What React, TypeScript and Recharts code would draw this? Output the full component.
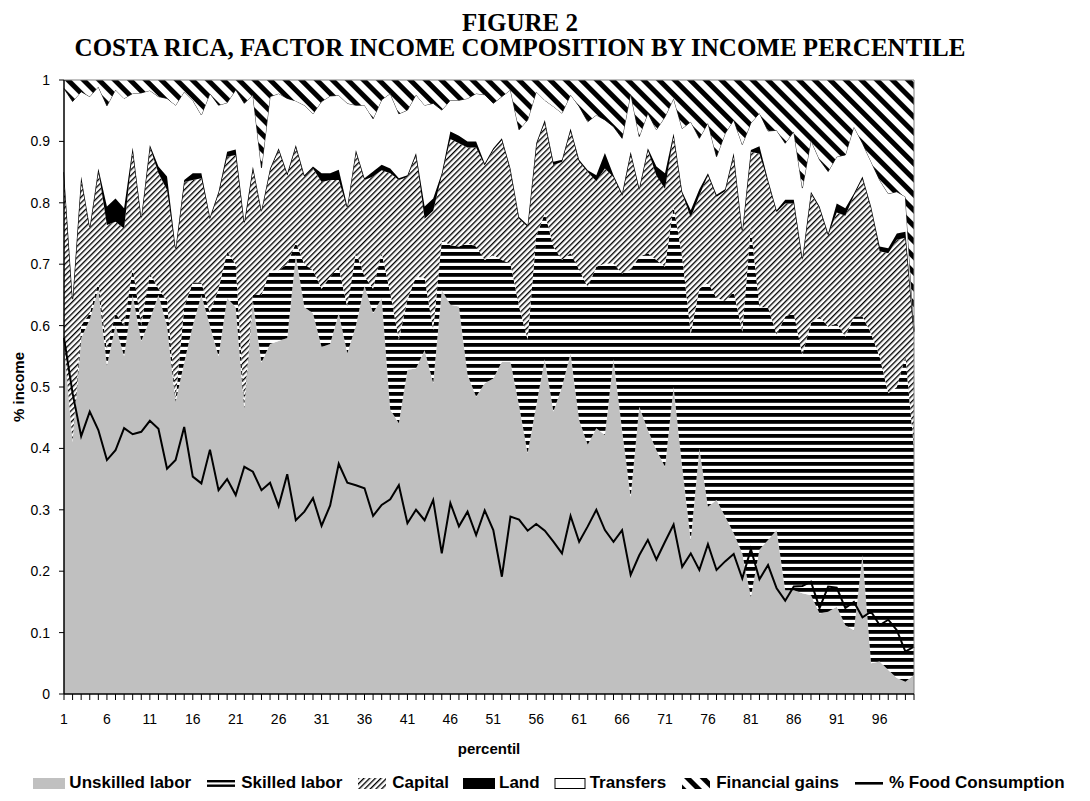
import React from 'react';
import { ComposedChart, Area, Line, XAxis, YAxis, ReferenceLine, Legend } from 'recharts';

const percentiles = [
  1, 2, 3, 4, 5, 6, 7, 8, 9, 10, 11, 12, 13, 14, 15, 16, 17, 18, 19, 20,
  21, 22, 23, 24, 25, 26, 27, 28, 29, 30, 31, 32, 33, 34, 35, 36, 37, 38, 39, 40,
  41, 42, 43, 44, 45, 46, 47, 48, 49, 50, 51, 52, 53, 54, 55, 56, 57, 58, 59, 60,
  61, 62, 63, 64, 65, 66, 67, 68, 69, 70, 71, 72, 73, 74, 75, 76, 77, 78, 79, 80,
  81, 82, 83, 84, 85, 86, 87, 88, 89, 90, 91, 92, 93, 94, 95, 96, 97, 98, 99, 100,
];

const unskilled = [
  0.570, 0.410, 0.580, 0.610, 0.660, 0.535, 0.600, 0.550, 0.650, 0.575,
  0.610, 0.650, 0.600, 0.476, 0.540, 0.600, 0.650, 0.600, 0.550, 0.645,
  0.630, 0.465, 0.640, 0.540, 0.570, 0.575, 0.580, 0.715, 0.630, 0.620,
  0.565, 0.570, 0.620, 0.555, 0.600, 0.665, 0.620, 0.645, 0.463, 0.441,
  0.528, 0.530, 0.560, 0.506, 0.658, 0.634, 0.631, 0.520, 0.484, 0.506,
  0.514, 0.541, 0.541, 0.470, 0.392, 0.470, 0.545, 0.460, 0.500, 0.555,
  0.446, 0.406, 0.433, 0.422, 0.545, 0.430, 0.321, 0.468, 0.430, 0.397,
  0.370, 0.500, 0.370, 0.251, 0.400, 0.305, 0.316, 0.289, 0.262, 0.229,
  0.158, 0.235, 0.251, 0.267, 0.169, 0.169, 0.164, 0.161, 0.131, 0.134,
  0.142, 0.112, 0.104, 0.226, 0.050, 0.053, 0.039, 0.026, 0.020, 0.031,
];

const skilled = [
  0.000, 0.000, 0.020, 0.010, 0.010, 0.025, 0.020, 0.050, 0.045, 0.025,
  0.075, 0.010, 0.040, 0.004, 0.090, 0.070, 0.020, 0.020, 0.110, 0.075,
  0.070, 0.005, 0.010, 0.110, 0.120, 0.115, 0.120, 0.020, 0.070, 0.070,
  0.095, 0.110, 0.075, 0.075, 0.120, 0.015, 0.040, 0.073, 0.190, 0.136,
  0.114, 0.150, 0.117, 0.087, 0.081, 0.097, 0.098, 0.214, 0.245, 0.201,
  0.201, 0.166, 0.160, 0.161, 0.185, 0.275, 0.238, 0.269, 0.207, 0.163,
  0.245, 0.257, 0.263, 0.279, 0.156, 0.255, 0.370, 0.244, 0.288, 0.310,
  0.326, 0.294, 0.342, 0.336, 0.260, 0.365, 0.329, 0.351, 0.393, 0.361,
  0.602, 0.395, 0.379, 0.318, 0.446, 0.451, 0.388, 0.443, 0.484, 0.464,
  0.462, 0.470, 0.511, 0.389, 0.537, 0.496, 0.451, 0.474, 0.530, 0.369,
];

const capital = [
  0.277, 0.231, 0.240, 0.138, 0.183, 0.204, 0.149, 0.158, 0.192, 0.174,
  0.206, 0.188, 0.181, 0.243, 0.204, 0.167, 0.170, 0.154, 0.155, 0.155,
  0.178, 0.296, 0.206, 0.135, 0.163, 0.196, 0.145, 0.156, 0.142, 0.166,
  0.174, 0.157, 0.142, 0.161, 0.163, 0.157, 0.183, 0.135, 0.195, 0.260,
  0.200, 0.198, 0.097, 0.194, 0.106, 0.173, 0.168, 0.156, 0.161, 0.154,
  0.171, 0.195, 0.152, 0.143, 0.184, 0.149, 0.149, 0.132, 0.160, 0.200,
  0.176, 0.187, 0.139, 0.155, 0.141, 0.127, 0.189, 0.109, 0.168, 0.137,
  0.127, 0.116, 0.103, 0.189, 0.152, 0.175, 0.165, 0.179, 0.223, 0.162,
  0.123, 0.250, 0.204, 0.200, 0.184, 0.179, 0.155, 0.211, 0.176, 0.149,
  0.180, 0.197, 0.197, 0.225, 0.204, 0.172, 0.228, 0.240, 0.193, 0.187,
];

const land = [
  0.003, 0.003, 0.003, 0.003, 0.003, 0.030, 0.038, 0.033, 0.003, 0.003,
  0.003, 0.011, 0.022, 0.003, 0.003, 0.011, 0.008, 0.003, 0.003, 0.008,
  0.009, 0.003, 0.003, 0.003, 0.003, 0.003, 0.003, 0.003, 0.003, 0.003,
  0.014, 0.011, 0.017, 0.003, 0.003, 0.003, 0.008, 0.009, 0.008, 0.003,
  0.003, 0.003, 0.020, 0.020, 0.003, 0.012, 0.012, 0.010, 0.010, 0.003,
  0.003, 0.003, 0.003, 0.003, 0.003, 0.003, 0.003, 0.006, 0.003, 0.003,
  0.003, 0.003, 0.010, 0.025, 0.003, 0.003, 0.003, 0.003, 0.003, 0.015,
  0.025, 0.003, 0.003, 0.012, 0.010, 0.003, 0.003, 0.003, 0.003, 0.003,
  0.003, 0.012, 0.003, 0.003, 0.006, 0.006, 0.003, 0.003, 0.003, 0.003,
  0.015, 0.012, 0.003, 0.003, 0.003, 0.008, 0.008, 0.010, 0.010, 0.003,
];

const transfers = [
  0.136, 0.321, 0.138, 0.212, 0.133, 0.164, 0.177, 0.179, 0.088, 0.202,
  0.089, 0.114, 0.127, 0.233, 0.144, 0.119, 0.095, 0.201, 0.141, 0.080,
  0.097, 0.193, 0.117, 0.069, 0.117, 0.089, 0.122, 0.072, 0.114, 0.086,
  0.117, 0.126, 0.121, 0.168, 0.073, 0.119, 0.086, 0.106, 0.122, 0.105,
  0.106, 0.095, 0.165, 0.155, 0.103, 0.051, 0.058, 0.070, 0.078, 0.112,
  0.073, 0.068, 0.128, 0.142, 0.171, 0.084, 0.032, 0.090, 0.076, 0.055,
  0.087, 0.079, 0.098, 0.054, 0.079, 0.090, 0.095, 0.084, 0.057, 0.060,
  0.092, 0.057, 0.103, 0.144, 0.083, 0.082, 0.062, 0.091, 0.054, 0.140,
  0.044, 0.054, 0.080, 0.130, 0.092, 0.111, 0.114, 0.084, 0.076, 0.101,
  0.076, 0.087, 0.109, 0.054, 0.073, 0.108, 0.089, 0.068, 0.057, 0.002,
];

const financial = [
  0.014, 0.035, 0.019, 0.027, 0.011, 0.042, 0.016, 0.030, 0.022, 0.021,
  0.017, 0.027, 0.030, 0.041, 0.019, 0.033, 0.057, 0.022, 0.041, 0.037,
  0.016, 0.038, 0.024, 0.143, 0.027, 0.022, 0.030, 0.034, 0.041, 0.055,
  0.035, 0.026, 0.025, 0.038, 0.041, 0.041, 0.063, 0.032, 0.022, 0.055,
  0.049, 0.024, 0.041, 0.038, 0.049, 0.033, 0.033, 0.030, 0.022, 0.024,
  0.038, 0.027, 0.016, 0.081, 0.065, 0.019, 0.033, 0.043, 0.054, 0.024,
  0.043, 0.068, 0.057, 0.065, 0.076, 0.095, 0.022, 0.092, 0.054, 0.081,
  0.060, 0.030, 0.079, 0.068, 0.095, 0.070, 0.125, 0.087, 0.065, 0.105,
  0.070, 0.054, 0.083, 0.082, 0.103, 0.084, 0.176, 0.098, 0.130, 0.149,
  0.125, 0.122, 0.076, 0.103, 0.133, 0.163, 0.185, 0.182, 0.190, 0.408,
];

const foodConsumption = [
  0.580, 0.490, 0.420, 0.460, 0.430, 0.381, 0.397, 0.433, 0.423, 0.427,
  0.445, 0.432, 0.367, 0.381, 0.435, 0.354, 0.343, 0.398, 0.332, 0.350,
  0.324, 0.370, 0.362, 0.332, 0.344, 0.306, 0.358, 0.283, 0.297, 0.319,
  0.274, 0.307, 0.375, 0.344, 0.340, 0.335, 0.290, 0.308, 0.317, 0.340,
  0.278, 0.300, 0.283, 0.316, 0.229, 0.311, 0.273, 0.297, 0.259, 0.299,
  0.267, 0.191, 0.289, 0.284, 0.266, 0.277, 0.266, 0.248, 0.229, 0.290,
  0.248, 0.273, 0.300, 0.267, 0.248, 0.267, 0.194, 0.226, 0.251, 0.219,
  0.248, 0.276, 0.207, 0.229, 0.202, 0.244, 0.202, 0.216, 0.228, 0.188,
  0.236, 0.187, 0.210, 0.172, 0.152, 0.175, 0.176, 0.183, 0.140, 0.175,
  0.173, 0.140, 0.150, 0.125, 0.134, 0.112, 0.121, 0.104, 0.069, 0.077,
];

const yTicks = [0, 0.1, 0.2, 0.3, 0.4, 0.5, 0.6, 0.7, 0.8, 0.9, 1];
const yTickLabels = ['0', '0.1', '0.2', '0.3', '0.4', '0.5', '0.6', '0.7', '0.8', '0.9', '1'];

const data = percentiles.map((p, i) => ({
  p,
  unskilled: unskilled[i],
  skilled: skilled[i],
  capital: capital[i],
  land: land[i],
  transfers: transfers[i],
  financial: financial[i],
  food: foodConsumption[i],
}));

const SANS = '"Liberation Sans", Arial, sans-serif';
const SERIF = '"Liberation Serif", "Times New Roman", serif';

const PatternDefs = ({ prefix }: { prefix: string }) => (
  <defs>
    <pattern id={`${prefix}-skilled`} patternUnits="userSpaceOnUse" width="8" height="7">
      <rect x="0" y="0" width="8" height="7" fill="#fff" />
      <rect x="0" y="0" width="8" height="3.8" fill="#000" />
    </pattern>
    <pattern id={`${prefix}-capital`} patternUnits="userSpaceOnUse" width="4" height="4" patternTransform="rotate(45)">
      <rect x="0" y="0" width="4" height="4" fill="#fff" />
      <rect x="0" y="0" width="1.35" height="4" fill="#000" />
    </pattern>
    <pattern id={`${prefix}-financial`} patternUnits="userSpaceOnUse" width="11" height="11" patternTransform="rotate(-45)">
      <rect x="0" y="0" width="11" height="11" fill="#fff" />
      <rect x="0" y="0" width="5" height="11" fill="#000" />
    </pattern>
  </defs>
);

const legendItems = [
  { key: 'unskilled', label: 'Unskilled labor' },
  { key: 'skilled', label: 'Skilled labor' },
  { key: 'capital', label: 'Capital' },
  { key: 'land', label: 'Land' },
  { key: 'transfers', label: 'Transfers' },
  { key: 'financial', label: 'Financial gains' },
  { key: 'food', label: '% Food Consumption' },
];

const Swatch = ({ k }: { k: string }) => {
  let inner: React.ReactNode = null;
  if (k === 'unskilled') inner = <rect x="0" y="4" width="32" height="11" fill="#c0c0c0" />;
  else if (k === 'skilled') inner = (
    <g>
      <rect x="2" y="6" width="28" height="2.4" fill="#000" />
      <rect x="2" y="10.5" width="28" height="2.4" fill="#000" />
    </g>
  );
  else if (k === 'capital') inner = <rect x="2" y="4" width="28" height="11" fill="url(#lg-capital)" />;
  else if (k === 'land') inner = <rect x="0" y="4" width="32" height="11" fill="#000" />;
  else if (k === 'transfers') inner = <rect x="1" y="4.5" width="30" height="10" fill="#fff" stroke="#000" strokeWidth="1" />;
  else if (k === 'financial') inner = <rect x="2" y="4" width="28" height="11" fill="url(#lg-financial)" />;
  else if (k === 'food') inner = <rect x="2" y="8" width="28" height="2.6" fill="#000" />;
  return (
    <svg width="32" height="19" style={{ display: 'block', marginRight: 4 }}>
      <PatternDefs prefix="lg" />
      {inner}
    </svg>
  );
};

const renderLegend = () => (
  <div
    style={{
      display: 'flex',
      justifyContent: 'center',
      alignItems: 'center',
      paddingLeft: 22,
      fontFamily: SANS,
      fontWeight: 'bold',
      fontSize: 17,
      lineHeight: '20px',
      color: '#000',
      whiteSpace: 'nowrap',
    }}
  >
    {legendItems.map((it) => (
      <div key={it.key} style={{ display: 'flex', alignItems: 'center', marginRight: 14 }}>
        <Swatch k={it.key} />
        <span>{it.label}</span>
      </div>
    ))}
  </div>
);

const XTick = (props: any) => {
  const { x, y, payload } = props;
  const v = payload && payload.value;
  if ((v - 1) % 5 !== 0) return <g />;
  return (
    <text x={x} y={y} dy="0.71em" textAnchor="middle" fontFamily={SANS} fontSize={14} fill="#000">
      {v}
    </text>
  );
};

export default function App() {
  return (
    <div style={{ position: 'absolute', left: 0, top: 0, width: 1090, height: 801, background: '#fff' }}>
      <div
        style={{
          position: 'absolute',
          left: 0,
          top: 10,
          width: 1040,
          textAlign: 'center',
          fontFamily: SERIF,
          fontWeight: 'bold',
          fontSize: 25,
          lineHeight: '25px',
          color: '#000',
          whiteSpace: 'nowrap',
        }}
      >
        <div>FIGURE 2</div>
        <div>COSTA RICA, FACTOR INCOME COMPOSITION BY INCOME PERCENTILE</div>
      </div>
      <ComposedChart
        width={1090}
        height={801}
        data={data}
        margin={{ top: 80, right: 176, bottom: 67, left: 14 }}
      >
        <PatternDefs prefix="ch" />
        <XAxis
          dataKey="p"
          type="category"
          interval={0}
          height={40}
          tick={<XTick />}
          tickSize={6}
          tickMargin={14}
          axisLine={{ stroke: '#000', strokeWidth: 1.5 }}
          tickLine={{ stroke: '#000', strokeWidth: 1 }}
          label={{
            value: 'percentil',
            position: 'bottom',
            offset: 9,
            style: { fontFamily: SANS, fontWeight: 'bold', fontSize: 15, fill: '#000' },
          }}
        />
        <YAxis
          type="number"
          domain={[0, 1]}
          allowDataOverflow
          ticks={yTicks}
          interval={0}
          width={50}
          tickSize={5}
          tickMargin={9}
          tickFormatter={(v: number) => yTickLabels[yTicks.indexOf(v)] ?? String(v)}
          tick={{ fontFamily: SANS, fontSize: 14, fill: '#000' }}
          axisLine={{ stroke: '#000', strokeWidth: 1.5 }}
          tickLine={{ stroke: '#000', strokeWidth: 1 }}
          label={{
            value: '% income',
            angle: -90,
            position: 'insideLeft',
            offset: 5,
            style: { fontFamily: SANS, fontWeight: 'bold', fontSize: 15, fill: '#000', textAnchor: 'middle' },
          }}
        />
        <Area type="linear" dataKey="unskilled" name="Unskilled labor" stackId="s" stroke="none" fill="#c0c0c0" fillOpacity={1} isAnimationActive={false} />
        <Area type="linear" dataKey="skilled" name="Skilled labor" stackId="s" stroke="none" fill="url(#ch-skilled)" fillOpacity={1} isAnimationActive={false} />
        <Area type="linear" dataKey="capital" name="Capital" stackId="s" stroke="none" fill="url(#ch-capital)" fillOpacity={1} isAnimationActive={false} />
        <Area type="linear" dataKey="land" name="Land" stackId="s" stroke="#000" strokeWidth={1.3} fill="#000" fillOpacity={1} isAnimationActive={false} />
        <Area type="linear" dataKey="transfers" name="Transfers" stackId="s" stroke="#000" strokeWidth={0.8} fill="#fff" fillOpacity={1} isAnimationActive={false} />
        <Area type="linear" dataKey="financial" name="Financial gains" stackId="s" stroke="none" fill="url(#ch-financial)" fillOpacity={1} isAnimationActive={false} />
        <Line type="linear" dataKey="food" name="% Food Consumption" stroke="#000" strokeWidth={2} dot={false} activeDot={false} isAnimationActive={false} />
        <ReferenceLine y={1} stroke="#808080" strokeWidth={1} />
        <ReferenceLine x={100} stroke="#808080" strokeWidth={1} />
        <Legend
          content={renderLegend}
          wrapperStyle={{ position: 'absolute', left: 0, top: 773, bottom: 'auto', width: 1090, height: 0 }}
        />
      </ComposedChart>
    </div>
  );
}
